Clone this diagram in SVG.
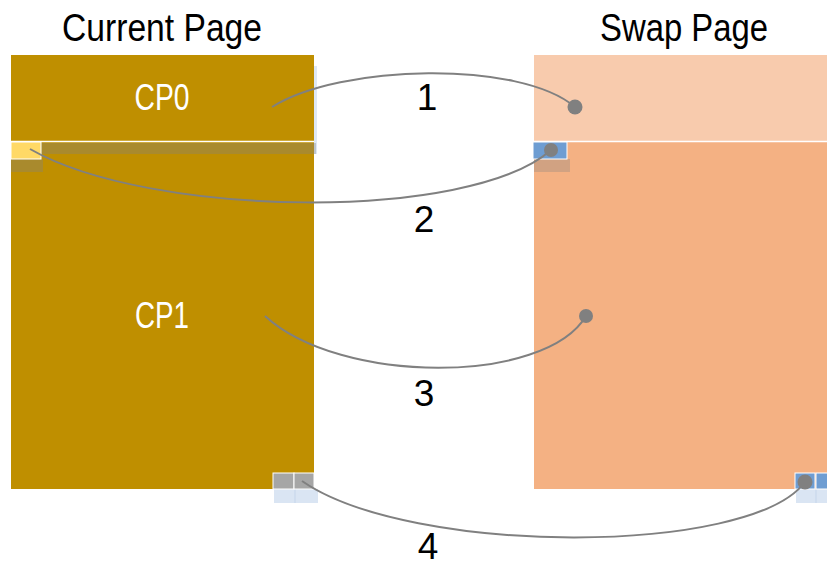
<svg xmlns="http://www.w3.org/2000/svg" width="827" height="567" viewBox="0 0 827 567">
<style>
.hd{font-family:"Liberation Sans Narrow","Liberation Sans",Arial,sans-serif;font-size:38px;fill:#000;text-anchor:middle}
.cp{font-family:"Liberation Sans Narrow","Liberation Sans",Arial,sans-serif;font-size:36px;fill:#fff;text-anchor:middle}
.num{font-family:"Liberation Sans Narrow","Liberation Sans",Arial,sans-serif;font-size:37px;fill:#000;text-anchor:middle}
.conn{fill:none;stroke:#808080;stroke-width:2}
.dot{fill:#808080}
.sep{stroke:#fff;stroke-width:1.5}
</style>
<rect width="827" height="567" fill="#fff"/>
<text class="hd" x="162" y="41" textLength="200" lengthAdjust="spacingAndGlyphs">Current Page</text>
<text class="hd" x="684" y="41" textLength="168" lengthAdjust="spacingAndGlyphs">Swap Page</text>

<g id="current-page">
  <rect x="314" y="66" width="3" height="88" fill="#DEE8F5"/>
  <rect x="11" y="55" width="303" height="434" fill="#BF8F00"/>
  <line class="sep" x1="11" y1="141.5" x2="314" y2="141.5"/>
  <rect x="41" y="143" width="275" height="11" fill="#808080" opacity="0.35"/>
  <rect x="11" y="159" width="32" height="13" fill="#808080" opacity="0.35"/>
  <rect x="11" y="142" width="30" height="17" fill="#FFD966" stroke="#fff" stroke-width="1"/>
  <text class="cp" x="162" y="110" textLength="55" lengthAdjust="spacingAndGlyphs">CP0</text>
  <text class="cp" x="162" y="328" textLength="54" lengthAdjust="spacingAndGlyphs">CP1</text>
  <rect x="274" y="489" width="44" height="14" fill="#DAE5F3"/>
  <line x1="295" y1="489" x2="295" y2="503" stroke="#C5D5EA" stroke-width="1"/>
  <rect x="273" y="473" width="21" height="16" fill="#A6A6A6" stroke="#fff" stroke-width="1"/>
  <rect x="294" y="473" width="20" height="16" fill="#A6A6A6" stroke="#fff" stroke-width="1"/>
</g>

<g id="swap-page">
  <rect x="534" y="55" width="293" height="86" fill="#F8CBAD"/>
  <rect x="534" y="142" width="293" height="347" fill="#F4B183"/>
  <line class="sep" x1="534" y1="141.5" x2="827" y2="141.5"/>
  <rect x="534" y="159" width="36" height="13" fill="#808080" opacity="0.3"/>
  <rect x="533" y="142" width="34" height="17" fill="#6E9DD2" stroke="#fff" stroke-width="1"/>
  <rect x="796" y="489" width="31" height="14" fill="#DAE5F3"/>
  <line x1="816" y1="489" x2="816" y2="503" stroke="#C5D5EA" stroke-width="1"/>
  <rect x="795" y="473" width="20" height="16" fill="#6E9DD2" stroke="#fff" stroke-width="1"/>
  <rect x="816" y="473" width="12" height="16" fill="#6E9DD2" stroke="#fff" stroke-width="1"/>
</g>

<g id="connectors">
  <path class="conn" d="M272,107 C340,64 520,60 575,107"/>
  <path class="conn" d="M30,149 C150,218 470,222 551,150"/>
  <path class="conn" d="M265,316 C340,385 545,385 586,316"/>
  <path class="conn" d="M302,481 C410,556 750,556 805,482"/>
  <circle class="dot" cx="575" cy="107" r="7.5"/>
  <circle class="dot" cx="551" cy="150" r="7"/>
  <circle class="dot" cx="586" cy="316" r="7"/>
  <circle class="dot" cx="805" cy="482" r="7.5"/>
  <text class="num" x="427" y="110">1</text>
  <text class="num" x="424" y="232">2</text>
  <text class="num" x="424" y="406">3</text>
  <text class="num" x="428" y="559" font-size="36">4</text>
</g>
</svg>
